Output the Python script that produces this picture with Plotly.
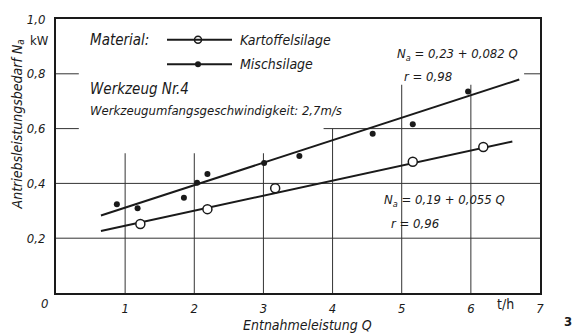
import plotly.graph_objects as go

# ---- data ----
misch_q = [0.88, 1.18, 1.85, 2.04, 2.19, 3.01, 3.52, 4.58, 5.16, 5.96]
misch_n = [0.324, 0.309, 0.348, 0.402, 0.434, 0.474, 0.50, 0.581, 0.616, 0.735]
kart_q = [1.22, 2.19, 3.17, 5.16, 6.18]
kart_n = [0.252, 0.306, 0.382, 0.479, 0.533]

misch_fit_q = [0.65, 6.7]
misch_fit_n = [0.283, 0.779]
kart_fit_q = [0.65, 6.6]
kart_fit_n = [0.226, 0.553]

x_ticks = [1, 2, 3, 4, 5, 6, 7]
x_ticklabels = ["1", "2", "3", "4", "5", "6", "7"]
y_ticks = [0.2, 0.4, 0.6, 0.8, 1.0]
y_ticklabels = ["0,2", "0,4", "0,6", "0,8", "1,0"]

# partial grid lines as drawn in the original
vgrid_x = [1, 2, 3, 4, 5, 6]
vgrid_top = [0.51, 0.51, 0.51, 0.60, 0.76, 0.76]
hgrid_y = [0.2, 0.4, 0.6, 0.6, 0.8, 0.8]
hgrid_from = [0, 0, 0, 3.87, 0, 6.77]
hgrid_to = [7, 7, 0.33, 7, 0.33, 7]

FONT = "Liberation Sans Narrow, DejaVu Sans Condensed, Arial Narrow, sans-serif"
INK = "#1a1a1a"

fig = go.Figure()

gx, gy = [], []
for x, t in zip(vgrid_x, vgrid_top):
    gx += [x, x, None]
    gy += [0, t, None]
for y, a, b in zip(hgrid_y, hgrid_from, hgrid_to):
    gx += [a, b, None]
    gy += [y, y, None]
fig.add_trace(go.Scatter(x=gx, y=gy, mode="lines", line=dict(color="#333333", width=1),
                         hoverinfo="skip", showlegend=False))

fig.add_trace(go.Scatter(x=misch_fit_q, y=misch_fit_n, mode="lines",
                         line=dict(color=INK, width=2), showlegend=False))
fig.add_trace(go.Scatter(x=kart_fit_q, y=kart_fit_n, mode="lines",
                         line=dict(color=INK, width=2), showlegend=False))
fig.add_trace(go.Scatter(x=misch_q, y=misch_n, mode="markers", name="Mischsilage",
                         marker=dict(color=INK, size=6), showlegend=False))
fig.add_trace(go.Scatter(x=kart_q, y=kart_n, mode="markers", name="Kartoffelsilage",
                         marker=dict(color="white", size=9, line=dict(color=INK, width=1.5)),
                         showlegend=False))

L, R, T, B = 56, 36, 15, 40
W, H = 576, 333
pw, ph = W - L - R, H - T - B


def px(x):
    return (x - L) / pw


def py(y):
    return (H - B - y) / ph


# manual legend
shapes = []
for row_y in (36, 61):
    shapes.append(dict(type="line", xref="paper", yref="paper", x0=px(167), x1=px(232),
                       y0=py(row_y), y1=py(row_y), line=dict(color=INK, width=2)))
fig.add_trace(go.Scatter(x=[px(198)], y=[py(36)], xaxis="x2", yaxis="y2", mode="markers",
                         marker=dict(color="white", size=7, line=dict(color=INK, width=1.5)),
                         showlegend=False, hoverinfo="skip"))
fig.add_trace(go.Scatter(x=[px(198)], y=[py(61)], xaxis="x2", yaxis="y2", mode="markers",
                         marker=dict(color=INK, size=6), showlegend=False, hoverinfo="skip"))

ann = []


def text(t, x, y, xanchor="left", size=14, style="italic", weight="normal", angle=0, yanchor="middle"):
    ann.append(dict(text=t, xref="paper", yref="paper", x=px(x), y=py(y), xanchor=xanchor,
                    yanchor=yanchor, showarrow=False, textangle=angle,
                    font=dict(family=FONT, size=size, color=INK, style=style, weight=weight)))


text("Material:", 88, 36, size=15)
text("Kartoffelsilage", 238, 36)
text("Mischsilage", 238, 61)
text("Werkzeug Nr.4", 88, 86, size=15)
text("Werkzeugumfangsgeschwindigkeit: 2,7m/s", 88, 108, size=13)
text("N<sub>a</sub> = 0,23 + 0,082 Q", 395, 51, size=13)
text("r = 0,98", 402, 73, size=13)
text("N<sub>a</sub> = 0,19 + 0,055 Q", 382, 199, size=13)
text("r = 0,96", 389, 222, size=13)
text("kW", 51, 37, xanchor="right", style="normal", size=13)
text("0", 50, 304, xanchor="right", size=13)
text("t/h", 505, 304, xanchor="center", style="normal", size=14)
text("Antriebsleistungsbedarf N<sub>a</sub>", 18, 122, xanchor="center", angle=-90, size=14)
text("Entnahmeleistung Q", 307, 325, xanchor="center", size=14)
text("3", 568, 322, xanchor="center", style="normal", weight="bold", size=13)

fig.update_layout(
    width=W, height=H,
    margin=dict(l=L, r=R, t=T, b=B, pad=0),
    paper_bgcolor="white", plot_bgcolor="white",
    font=dict(family=FONT, size=13, color=INK, style="italic"),
    showlegend=False,
    shapes=shapes,
    annotations=ann,
    xaxis=dict(range=[0, 7], tickvals=x_ticks, ticktext=x_ticklabels, showgrid=False,
               zeroline=False, showline=True, linecolor=INK, linewidth=2, mirror=True,
               ticks="", ticklabelstandoff=2,
               tickfont=dict(family=FONT, size=13, color=INK, style="italic")),
    yaxis=dict(range=[0, 1.0], tickvals=y_ticks, ticktext=y_ticklabels, showgrid=False,
               zeroline=False, showline=True, linecolor=INK, linewidth=2, mirror=True,
               ticks="", ticklabelstandoff=6,
               tickfont=dict(family=FONT, size=13, color=INK, style="italic")),
    xaxis2=dict(range=[0, 1], overlaying="x", visible=False),
    yaxis2=dict(range=[0, 1], overlaying="y", visible=False),
)

fig.write_html("out.html", config={"displayModeBar": False},
               post_script="document.body.style.margin='0';document.body.style.overflow='hidden';")
